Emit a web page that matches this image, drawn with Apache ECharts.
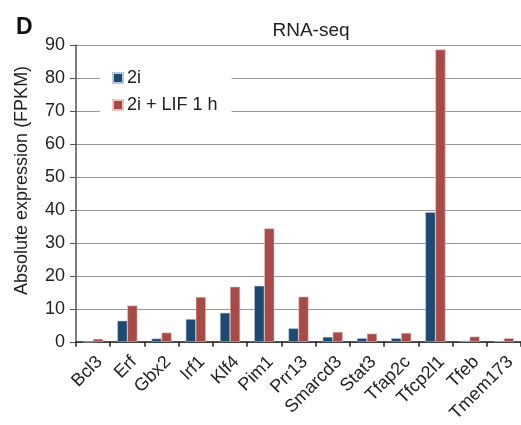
<!DOCTYPE html>
<html>
<head>
<meta charset="utf-8">
<script src="https://cdn.jsdelivr.net/npm/echarts@6/dist/echarts.min.js"></script>
<style>
  html, body { margin: 0; padding: 0; background: #fff; }
  #chart { width: 521px; height: 425px; }
</style>
</head>
<body>
<div id="chart"></div>
<script>
// Genes measured by RNA-seq
const genes = ['Bcl3', 'Erf', 'Gbx2', 'Irf1', 'Klf4', 'Pim1', 'Prr13', 'Smarcd3',
  'Stat3', 'Tfap2c', 'Tfcp2l1', 'Tfeb', 'Tmem173'];
// Absolute expression (FPKM) per condition
const fpkm2i = [0.0, 6.4, 1.0, 6.9, 8.8, 17.0, 4.1, 1.5, 1.1, 1.1, 39.3, 0.3, 0.2];
const fpkmLif1h = [0.9, 11.0, 2.8, 13.6, 16.7, 34.4, 13.7, 3.0, 2.5, 2.7, 88.6, 1.6, 1.1];
const seriesNames = ['2i', '2i + LIF 1 h'];
const yTicks = [0, 10, 20, 30, 40, 50, 60, 70, 80, 90];

const FONT = '"Liberation Sans", Arial, Helvetica, sans-serif';
const chart = echarts.init(document.getElementById('chart'), null, { renderer: 'canvas' });

chart.setOption({
  backgroundColor: '#ffffff',
  animation: false,
  textStyle: { fontFamily: FONT },
  title: [
    { text: 'D', left: 11, top: 11,
      textStyle: { fontSize: 23, fontWeight: 'bold', color: '#111', fontFamily: FONT } },
    { text: 'RNA-seq', left: 306, top: 16, textAlign: 'center',
      textStyle: { fontSize: 19, fontWeight: 'normal', color: '#222', fontFamily: FONT } }
  ],
  legend: {
    data: seriesNames,
    orient: 'vertical',
    left: 100,
    top: 63,
    padding: [6, 14, 6, 12],
    itemGap: 9,
    itemWidth: 10,
    itemHeight: 10,
    backgroundColor: '#ffffff',
    icon: 'rect',
    textStyle: { fontSize: 18, color: '#222', fontFamily: FONT, padding: [0, 0, 0, -1] }
  },
  grid: { left: 76, top: 45, width: 449, height: 297, containLabel: false },
  xAxis: {
    type: 'category',
    data: genes,
    axisLine: { lineStyle: { color: '#222', width: 1.5 } },
    axisTick: { show: true, alignWithLabel: false, length: 5, lineStyle: { color: '#222', width: 1.5 } },
    axisLabel: { rotate: 45, interval: 0, fontSize: 18, color: '#222', margin: 11,
      verticalAlign: 'top', fontFamily: FONT },
    splitLine: { show: false }
  },
  yAxis: {
    type: 'value',
    min: yTicks[0],
    max: yTicks[yTicks.length - 1],
    interval: 10,
    name: 'Absolute expression (FPKM)',
    nameLocation: 'middle',
    nameGap: 45,
    nameTextStyle: { fontSize: 18, color: '#222', fontFamily: FONT, padding: [0, 0, 0, 26] },
    axisLine: { show: true, lineStyle: { color: '#555', width: 1.5 } },
    axisTick: { show: true, length: 6, lineStyle: { color: '#555' } },
    axisLabel: { fontSize: 18, color: '#222', margin: 11, fontFamily: FONT },
    splitLine: { show: true, lineStyle: { color: '#9a9a9a', width: 1.2 } }
  },
  series: [
    { name: seriesNames[0], type: 'bar', data: fpkm2i, barWidth: 10, barGap: '0%',
      itemStyle: { color: '#1c4a72', borderColor: '#b8c8d8', borderWidth: 0.5 } },
    { name: seriesNames[1], type: 'bar', data: fpkmLif1h, barWidth: 10, barGap: '0%',
      itemStyle: { color: '#a84b46', borderColor: '#e8c6c4', borderWidth: 0.5 } }
  ]
});
</script>
</body>
</html>
